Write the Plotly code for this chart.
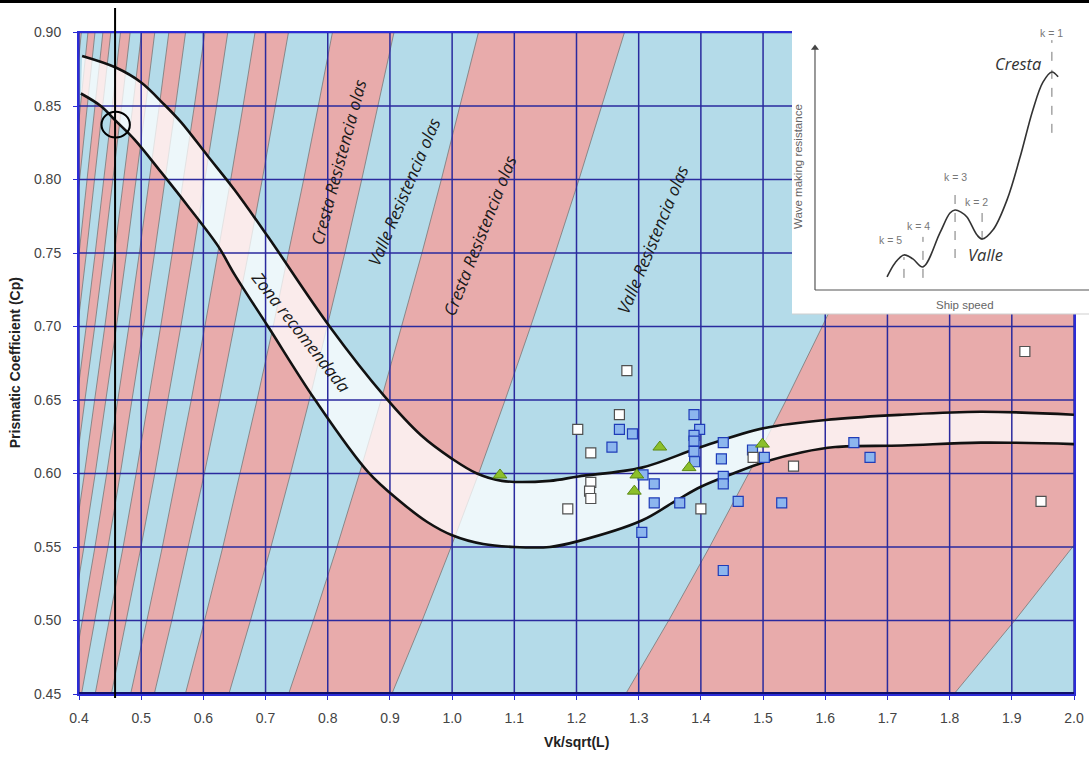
import numpy as np
import plotly.graph_objects as go

W, H = 1089, 760
# plotting rectangle edges in pixels (left, right, top, bottom)
PX_L, PX_R, PX_T, PX_B = 79, 1074, 32.5, 694
X_RANGE = [0.4, 2.0]
Y_RANGE = [0.45, 0.90]

x_ticks = [0.4, 0.5, 0.6, 0.7, 0.8, 0.9, 1.0, 1.1, 1.2, 1.3, 1.4, 1.5, 1.6, 1.7, 1.8, 1.9, 2.0]
x_labels = ["0.4", "0.5", "0.6", "0.7", "0.8", "0.9", "1.0", "1.1", "1.2", "1.3", "1.4",
            "1.5", "1.6", "1.7", "1.8", "1.9", "2.0"]
y_ticks = [0.45, 0.50, 0.55, 0.60, 0.65, 0.70, 0.75, 0.80, 0.85, 0.90]
y_labels = ["0.45", "0.50", "0.55", "0.60", "0.65", "0.70", "0.75", "0.80", "0.85", "0.90"]

# Wave-resistance crest bands: edge speeds Vk/sqrt(L) at Cp = 0.45.
# Edge speed grows with sqrt(Cp) (hump speed scales with sqrt(Cp*L)).
crest_left = [1.279, 0.737, 0.571, 0.483, 0.426, 0.385, 0.354, 0.330, 0.310, 0.293, 0.279]
crest_right = [1.807, 0.903, 0.641, 0.521, 0.452, 0.404, 0.369, 0.341, 0.319, 0.301, 0.2855]
cp_levels = [0.45, 0.50, 0.55, 0.60, 0.65, 0.70, 0.75, 0.80, 0.85, 0.90]
CP_REF = 0.45

# Recommended zone limits
upper_x = [0.405, 0.46, 0.50, 0.537, 0.564, 0.607, 0.65, 0.704, 0.803, 0.891, 0.95, 1.00,
           1.04, 1.08, 1.157, 1.203, 1.305, 1.40, 1.503, 1.616, 1.724, 1.85, 2.0]
upper_y = [0.884, 0.876, 0.866, 0.851, 0.839, 0.816, 0.793, 0.761, 0.700, 0.6526, 0.626, 0.610,
           0.600, 0.595, 0.595, 0.598, 0.604, 0.618, 0.631, 0.637, 0.640, 0.642, 0.640]
lower_x = [0.403, 0.435, 0.46, 0.489, 0.532, 0.575, 0.624, 0.65, 0.704, 0.779, 0.865, 0.918,
           0.96, 1.00, 1.05, 1.10, 1.157, 1.203, 1.305, 1.358, 1.40, 1.452, 1.503, 1.563,
           1.616, 1.724, 1.85, 2.0]
lower_y = [0.8585, 0.850, 0.8395, 0.8273, 0.805, 0.782, 0.7545, 0.7355, 0.700, 0.6505, 0.601,
           0.5805, 0.567, 0.558, 0.552, 0.550, 0.550, 0.554, 0.568, 0.581, 0.591, 0.600,
           0.608, 0.6145, 0.618, 0.619, 0.621, 0.620]

# Ship data
white_x = [1.281, 1.269, 1.202, 1.223, 1.223, 1.221, 1.223, 1.186, 1.400, 1.484, 1.549, 1.921, 1.947]
white_y = [0.670, 0.640, 0.630, 0.614, 0.594, 0.588, 0.583, 0.576, 0.576, 0.611, 0.605, 0.683, 0.581]
blue_x = [1.389, 1.398, 1.389, 1.389, 1.389, 1.390, 1.269, 1.290, 1.257, 1.307, 1.325, 1.325,
          1.366, 1.305, 1.436, 1.433, 1.436, 1.436, 1.460, 1.483, 1.502, 1.530, 1.436, 1.646, 1.672]
blue_y = [0.640, 0.630, 0.626, 0.622, 0.615, 0.608, 0.630, 0.627, 0.618, 0.599, 0.593, 0.580,
          0.580, 0.560, 0.621, 0.610, 0.598, 0.593, 0.581, 0.616, 0.611, 0.580, 0.534, 0.621, 0.611]
green_x = [1.077, 1.334, 1.297, 1.293, 1.381, 1.499]
green_y = [0.599, 0.618, 0.599, 0.588, 0.604, 0.620]

# Inset: wave making resistance vs ship speed (arbitrary units 0-100)
inset_speed = [32.0, 34.7, 37.7, 40.7, 44.1, 49.8, 53.2, 54.9, 56.9, 58.9, 62.3, 64.0,
               67.7, 72.4, 76.8, 81.1, 84.5, 87.5, 89.6]
inset_resist = [12.1, 16.7, 19.3, 18.0, 15.4, 26.5, 33.0, 34.0, 33.3, 31.7, 25.8, 24.5,
                27.5, 37.3, 51.3, 66.7, 75.8, 79.1, 77.5]
k_names = ["k = 5", "k = 4", "k = 3", "k = 2", "k = 1"]
k_speed = [37.7, 44.1, 54.9, 64.0, 87.5]
k_low = [11.8, 11.8, 18.3, 24.2, 59.2]
k_high = [18.6, 25.2, 41.2, 33.0, 89.5]
k_label_x = [33.0, 42.5, 54.9, 62.2, 87.4]
k_label_y = [24.2, 28.8, 44.9, 36.7, 91.7]
inset_origin = [7.74, 7.84]
inset_arrow_top = 86.9

BLUE_BG = "#b4dbe9"
PINK = "#e8abab"
GRID = "#2a2a9e"
AXIS_BLUE = "#2b2bd6"

fig = go.Figure()

# light blue background of the main panel
fig.add_trace(go.Scatter(
    x=[X_RANGE[0], X_RANGE[1], X_RANGE[1], X_RANGE[0], X_RANGE[0]],
    y=[Y_RANGE[0], Y_RANGE[0], Y_RANGE[1], Y_RANGE[1], Y_RANGE[0]],
    fill="toself", fillcolor=BLUE_BG, line=dict(width=0), mode="lines",
    hoverinfo="skip", showlegend=False))

# crest bands
cp = np.array(cp_levels)
scale = np.sqrt(cp / CP_REF)
for xl, xr in zip(crest_left, crest_right):
    bx = list(xl * scale) + list(xr * scale[::-1]) + [xl * scale[0]]
    by = list(cp) + list(cp[::-1]) + [cp[0]]
    fig.add_trace(go.Scatter(
        x=bx, y=by, fill="toself", fillcolor=PINK, mode="lines",
        line=dict(color="rgba(125,125,125,0.85)", width=1),
        hoverinfo="skip", showlegend=False))

# recommended zone fill
fig.add_trace(go.Scatter(x=lower_x, y=lower_y, mode="lines", line=dict(width=0, shape="spline"),
                         hoverinfo="skip", showlegend=False))
fig.add_trace(go.Scatter(x=upper_x, y=upper_y, mode="lines", line=dict(width=0, shape="spline"),
                         fill="tonexty", fillcolor="rgba(255,255,255,0.76)",
                         hoverinfo="skip", showlegend=False))

# grid
gx, gy = [], []
for xt in x_ticks:
    gx += [xt, xt, None]
    gy += [Y_RANGE[0], Y_RANGE[1], None]
for yt in y_ticks:
    gx += [X_RANGE[0], X_RANGE[1], None]
    gy += [yt, yt, None]
fig.add_trace(go.Scatter(x=gx, y=gy, mode="lines", line=dict(color=GRID, width=1.5),
                         hoverinfo="skip", showlegend=False))
fig.add_trace(go.Scatter(x=X_RANGE, y=[Y_RANGE[0], Y_RANGE[0]], mode="lines",
                         line=dict(color="#10106a", width=4), hoverinfo="skip", showlegend=False))

# zone limits
for cx, cy in ((upper_x, upper_y), (lower_x, lower_y)):
    fig.add_trace(go.Scatter(x=cx, y=cy, mode="lines",
                             line=dict(color="#111111", width=2.6, shape="spline"),
                             hoverinfo="skip", showlegend=False))

# ships
fig.add_trace(go.Scatter(x=blue_x, y=blue_y, mode="markers", showlegend=False,
                         marker=dict(symbol="square", size=10, color="#8cb6ee",
                                     line=dict(color="#1f3cb8", width=1.2))))
fig.add_trace(go.Scatter(x=white_x, y=white_y, mode="markers", showlegend=False,
                         marker=dict(symbol="square", size=10, color="#ffffff",
                                     line=dict(color="#505050", width=1.2))))
fig.add_trace(go.Scatter(x=green_x, y=green_y, mode="markers", showlegend=False,
                         marker=dict(symbol="triangle-up", size=12, color="#8cbf2a",
                                     line=dict(color="#5c8a14", width=1))))

# ---- inset ----
fig.add_trace(go.Scatter(x=[0, 100, 100, 0, 0], y=[0, 0, 100, 100, 0], fill="toself",
                         fillcolor="white", mode="lines", line=dict(width=0),
                         xaxis="x2", yaxis="y2", hoverinfo="skip", showlegend=False))
fig.add_trace(go.Scatter(x=[inset_origin[0], inset_origin[0], None, inset_origin[0], 100],
                         y=[inset_origin[1], inset_arrow_top, None, inset_origin[1], inset_origin[1]],
                         mode="lines", line=dict(color="#555555", width=1.2),
                         xaxis="x2", yaxis="y2", hoverinfo="skip", showlegend=False))
fig.add_trace(go.Scatter(x=[inset_origin[0]], y=[inset_arrow_top], mode="markers",
                         marker=dict(symbol="triangle-up", size=7, color="#444444"),
                         xaxis="x2", yaxis="y2", hoverinfo="skip", showlegend=False))
kx, ky = [], []
for s, lo, hi in zip(k_speed, k_low, k_high):
    kx += [s, s, None]
    ky += [lo, hi, None]
fig.add_trace(go.Scatter(x=kx, y=ky, mode="lines", line=dict(color="#777777", width=1, dash="dash"),
                         xaxis="x2", yaxis="y2", hoverinfo="skip", showlegend=False))
fig.add_trace(go.Scatter(x=inset_speed, y=inset_resist, mode="lines",
                         line=dict(color="#333333", width=1.6, shape="spline"),
                         xaxis="x2", yaxis="y2", hoverinfo="skip", showlegend=False))

ann = []
for name, lx, ly in zip(k_names, k_label_x, k_label_y):
    ann.append(dict(x=lx, y=ly, xref="x2", yref="y2", text=name, showarrow=False,
                    font=dict(family="Liberation Sans, Arial", size=10.5, color="#777777")))
ann += [
    dict(x=76.2, y=81.9, xref="x2", yref="y2", text="<i>Cresta</i>", showarrow=False,
         font=dict(family="Open Sans", size=16.5, color="#333333")),
    dict(x=65.0, y=19.3, xref="x2", yref="y2", text="<i>Valle</i>", showarrow=False,
         font=dict(family="Open Sans", size=16.5, color="#333333")),
    dict(x=58.2, y=2.9, xref="x2", yref="y2", text="Ship speed", showarrow=False,
         font=dict(family="Liberation Sans, Arial", size=11.5, color="#666666")),
    dict(x=2.1, y=48.1, xref="x2", yref="y2", text="Wave making resistance", showarrow=False,
         textangle=-90, font=dict(family="Liberation Sans, Arial", size=11.5, color="#666666")),
]

band_font = dict(family="Open Sans", size=17, color="#1a1a1a")
ann += [
    dict(x=0.8165, y=0.8119, text="<i>Cresta Resistencia olas</i>", textangle=-75, showarrow=False, font=band_font),
    dict(x=0.923, y=0.7917, text="<i>Valle Resistencia olas</i>", textangle=-67, showarrow=False, font=band_font),
    dict(x=1.0448, y=0.7617, text="<i>Cresta Resistencia olas</i>", textangle=-68.5, showarrow=False, font=band_font),
    dict(x=1.322, y=0.7594, text="<i>Valle Resistencia olas</i>", textangle=-67.5, showarrow=False, font=band_font),
    dict(x=0.7567, y=0.6965, text="<i>Zona recomendada</i>", textangle=52, showarrow=False, font=band_font),
]
for a in ann[-5:]:
    a.update(xref="x", yref="y")

# axis titles
title_font = dict(family="Liberation Sans, Arial", size=14, color="#222222")
ann += [
    dict(x=(PX_L + PX_R) / 2 / W, y=1 - 742 / H, xref="paper", yref="paper", text="<b>Vk/sqrt(L)</b>",
         xanchor="center", yanchor="middle", showarrow=False, font=title_font),
    dict(x=15 / W, y=1 - (PX_T + PX_B) / 2 / H, xref="paper", yref="paper",
         text="<b>Prismatic Coefficient (Cp)</b>", textangle=-90, xanchor="center", yanchor="middle",
         showarrow=False, font=title_font),
]

# marker circle and reference line
circ_x, circ_y = 0.459, 0.8373
shapes = [
    dict(type="line", xref="x", yref="paper", x0=0.458, x1=0.458, y0=1 - 8 / H, y1=1 - 698 / H,
         line=dict(color="black", width=2), layer="above"),
    dict(type="circle", xref="x", yref="y", x0=circ_x - 0.0228, x1=circ_x + 0.0228,
         y0=circ_y - 0.0088, y1=circ_y + 0.0088, line=dict(color="black", width=2), layer="above"),
    dict(type="line", xref="paper", yref="paper", x0=0, x1=1, y0=1 - 1.5 / H, y1=1 - 1.5 / H,
         line=dict(color="black", width=3), layer="above"),
    dict(type="line", xref="paper", yref="paper", x0=792 / W, x1=1, y0=1 - 314 / H, y1=1 - 314 / H,
         line=dict(color="#cfcfcf", width=1), layer="above"),
]

tick_font = dict(family="Liberation Sans, Arial", size=14, color="#444444")
fig.update_layout(
    template="none",
    width=W, height=H, autosize=False,
    margin=dict(l=0, r=0, t=0, b=0, pad=0, autoexpand=False),
    paper_bgcolor="white", plot_bgcolor="white", showlegend=False,
    xaxis=dict(range=X_RANGE, domain=[PX_L / W, PX_R / W], showgrid=False, zeroline=False,
               tickvals=x_ticks, ticktext=x_labels, ticks="outside", ticklen=4, tickcolor=AXIS_BLUE,
               showline=True, linecolor=AXIS_BLUE, linewidth=2, mirror=True, tickfont=tick_font,
               ticklabelstandoff=6, fixedrange=True, automargin=False),
    yaxis=dict(range=Y_RANGE, domain=[1 - PX_B / H, 1 - PX_T / H], showgrid=False, zeroline=False,
               tickvals=y_ticks, ticktext=y_labels, ticks="outside", ticklen=4, tickcolor=AXIS_BLUE,
               showline=True, linecolor=AXIS_BLUE, linewidth=2, mirror=True, tickfont=tick_font,
               ticklabelstandoff=9, fixedrange=True, automargin=False),
    xaxis2=dict(range=[0, 100], domain=[792 / W, 1.0], visible=False, anchor="y2",
                fixedrange=True, automargin=False),
    yaxis2=dict(range=[0, 100], domain=[1 - 314 / H, 1 - 8 / H], visible=False, anchor="x2",
                fixedrange=True, automargin=False),
    annotations=ann, shapes=shapes,
)

fig.write_html(
    "out.html",
    config={"responsive": False, "displayModeBar": False},
    post_script="document.documentElement.style.margin='0';document.body.style.margin='0';"
                "document.body.style.padding='0';document.body.style.overflow='hidden';",
)
